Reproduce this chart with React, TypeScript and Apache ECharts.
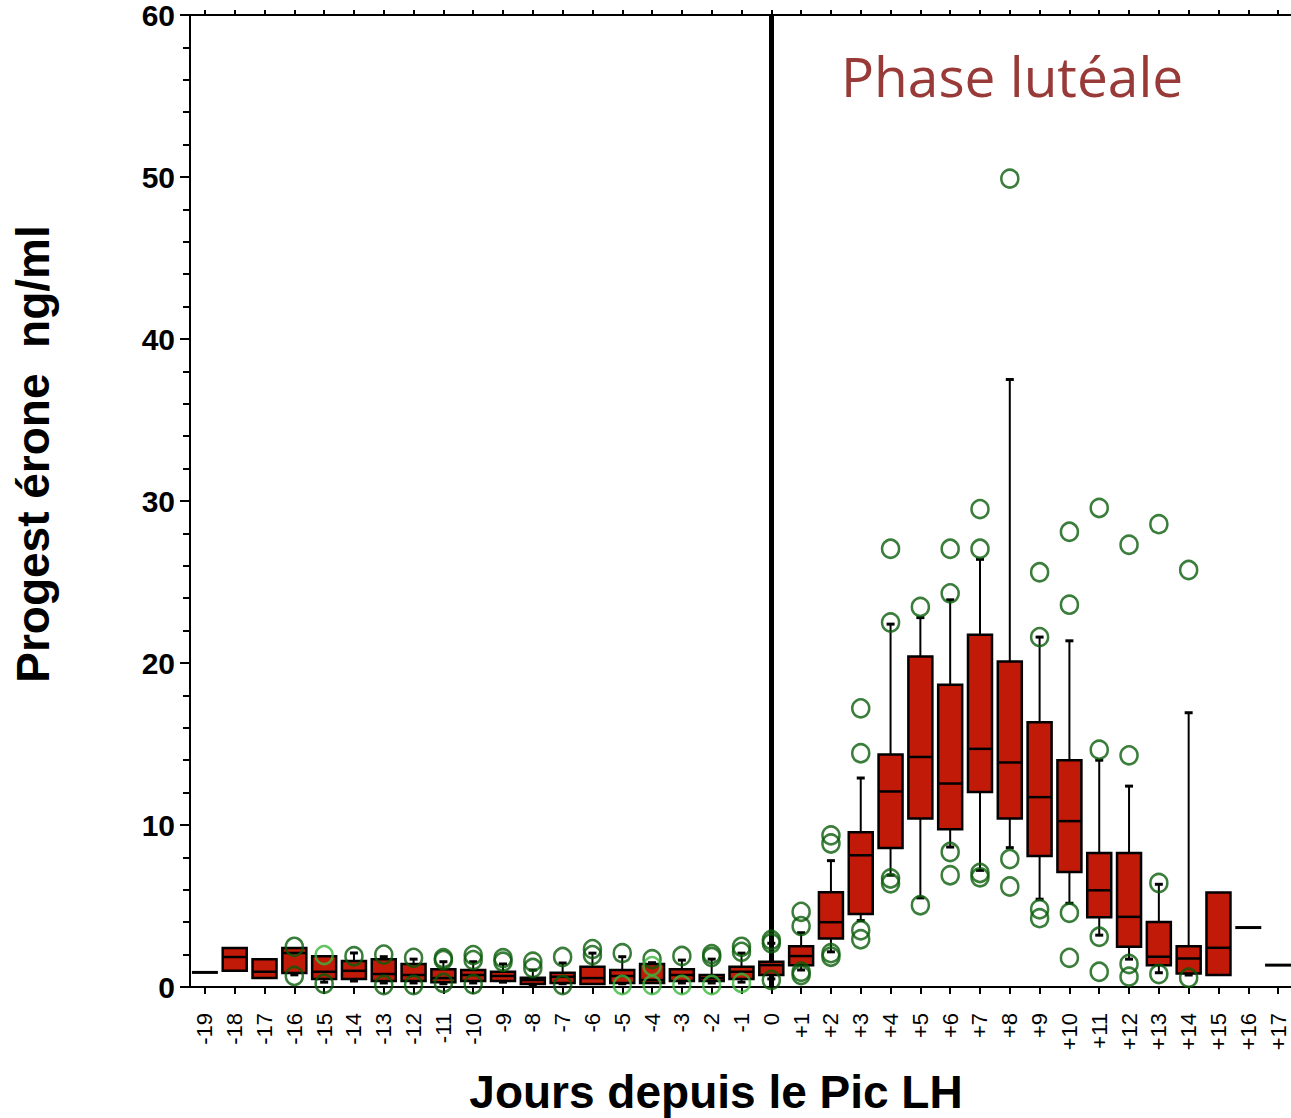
import React, { useEffect, useRef } from 'react';
import * as echarts from 'echarts';

// Category labels (days relative to LH peak)
const days = [
  '-19', '-18', '-17', '-16', '-15', '-14', '-13', '-12', '-11', '-10',
  '-9', '-8', '-7', '-6', '-5', '-4', '-3', '-2', '-1', '0',
  '+1', '+2', '+3', '+4', '+5', '+6', '+7', '+8', '+9', '+10',
  '+11', '+12', '+13', '+14', '+15', '+16', '+17',
];

// Box statistics, one value per day
const whiskerLow = [
  0.9, 1.0, 0.55, 0.75, 0.3, 0.37, 0.25, 0.25, 0.2, 0.25,
  0.3, 0.06, 0.2, 0.18, 0.2, 0.25, 0.25, 0.25, 0.3, 0.5,
  1.05, 2.17, 4.1, 6.9, 5.5, 8.64, 7.2, 8.6, 5.42, 5.17,
  3.2, 1.72, 0.88, 0.74, 0.74, 3.67, 1.35,
];
const q1 = [
  0.9, 1.0, 0.55, 0.86, 0.5, 0.5, 0.37, 0.37, 0.3, 0.37,
  0.37, 0.18, 0.25, 0.18, 0.25, 0.25, 0.37, 0.37, 0.49, 0.74,
  1.35, 3.0, 4.5, 8.58, 10.4, 9.73, 12.03, 10.4, 8.09, 7.1,
  4.3, 2.48, 1.35, 0.84, 0.74, 3.67, 1.35,
];
const median = [
  0.9, 1.85, 0.94, 2.1, 0.94, 1.0, 0.8, 0.74, 0.55, 0.74,
  0.68, 0.43, 0.63, 0.55, 0.68, 0.43, 0.74, 0.55, 0.94, 1.35,
  1.91, 4.0, 8.13, 12.07, 14.2, 12.56, 14.7, 13.86, 11.72, 10.24,
  5.97, 4.33, 1.87, 1.76, 2.42, 3.67, 1.35,
];
const q3 = [
  0.9, 2.4, 1.72, 2.4, 1.9, 1.6, 1.72, 1.42, 1.1, 1.05,
  0.94, 0.57, 0.88, 1.25, 1.05, 1.42, 1.1, 0.74, 1.25, 1.56,
  2.52, 5.85, 9.56, 14.35, 20.4, 18.66, 21.74, 20.1, 16.34, 14.0,
  8.27, 8.27, 4.02, 2.52, 5.83, 3.67, 1.35,
];
const whiskerHigh = [
  0.9, 2.4, 1.72, 2.4, 1.9, 2.1, 1.87, 1.72, 1.56, 1.56,
  1.42, 1.05, 1.48, 2.09, 1.87, 1.5, 1.66, 1.72, 2.09, 2.7,
  3.35, 7.8, 12.9, 22.4, 22.8, 23.9, 26.4, 37.5, 21.6, 21.37,
  14.0, 12.4, 6.34, 16.93, 5.83, 3.67, 1.35,
];

// Outliers [day, value]
const outliers: [string, number][] = [
  ['-16', 2.48], ['-16', 0.68], ['-15', 0.2], ['-14', 1.9],
  ['-13', 2.0], ['-13', 0.12], ['-12', 1.8], ['-12', 0.12],
  ['-11', 1.78], ['-11', 1.66], ['-11', 0.25],
  ['-10', 1.97], ['-10', 1.66], ['-10', 0.17],
  ['-9', 1.78], ['-9', 1.56], ['-8', 1.56], ['-8', 1.17],
  ['-7', 1.85], ['-7', 0.12], ['-6', 2.34], ['-6', 1.97],
  ['-5', 2.09], ['-4', 1.72], ['-3', 1.91], ['-2', 2.03], ['-2', 1.85],
  ['-1', 2.48], ['-1', 2.17],
  ['0', 2.9], ['0', 2.7], ['0', 0.43],
  ['+1', 4.64], ['+1', 3.76], ['+1', 0.94], ['+1', 0.74],
  ['+2', 9.36], ['+2', 8.86], ['+2', 2.09], ['+2', 1.87],
  ['+3', 17.2], ['+3', 14.43], ['+3', 3.5], ['+3', 2.95],
  ['+4', 27.05], ['+4', 22.5], ['+4', 6.7], ['+4', 6.4],
  ['+5', 23.46], ['+5', 5.05],
  ['+6', 27.05], ['+6', 24.3], ['+6', 8.33], ['+6', 6.9],
  ['+7', 29.5], ['+7', 27.05], ['+7', 7.04], ['+7', 6.77],
  ['+8', 49.9], ['+8', 7.9], ['+8', 6.2],
  ['+9', 25.6], ['+9', 21.6], ['+9', 4.8], ['+9', 4.25],
  ['+10', 28.1], ['+10', 23.6], ['+10', 4.58], ['+10', 1.8],
  ['+11', 29.57], ['+11', 14.65], ['+11', 3.1], ['+11', 0.94],
  ['+12', 27.3], ['+12', 14.3], ['+12', 1.42], ['+12', 0.64],
  ['+13', 28.57], ['+13', 6.42], ['+13', 0.8],
  ['+14', 25.74], ['+14', 0.57],
];
const lightOutliers: [string, number][] = [
  ['-15', 1.97], ['-5', 0.12], ['-4', 1.29], ['-4', 0.12],
  ['-3', 0.12], ['-2', 0.12], ['-1', 0.25],
];

const yTicks = [0, 10, 20, 30, 40, 50, 60];

const FONT = '"Liberation Sans", Arial, sans-serif';
const BOX_RED = '#c21a09';
const DARK_GREEN = '#0a5c0a';
const LIGHT_GREEN = '#3bb53b';

export default function App() {
  const ref = useRef<HTMLDivElement>(null);

  useEffect(() => {
    if (!ref.current) return;
    const chart = echarts.init(ref.current, undefined, { renderer: 'svg' });

    const boxData = days.map((_, i) => [i, whiskerLow[i], q1[i], median[i], q3[i], whiskerHigh[i]]);

    const renderItem = (_params: any, api: any) => {
      const x = api.value(0);
      const lo = api.coord([x, api.value(1)]);
      const p1 = api.coord([x, api.value(2)]);
      const pm = api.coord([x, api.value(3)]);
      const p3 = api.coord([x, api.value(4)]);
      const hi = api.coord([x, api.value(5)]);
      const cx = lo[0];
      const half = 12;
      const cap = 4;
      const children: any[] = [];
      const black = '#000';
      if (p3[1] - hi[1] > 0.5) {
        children.push({ type: 'line', shape: { x1: cx, y1: p3[1], x2: cx, y2: hi[1] }, style: { stroke: black, lineWidth: 2 } });
        children.push({ type: 'line', shape: { x1: cx - cap, y1: hi[1], x2: cx + cap, y2: hi[1] }, style: { stroke: black, lineWidth: 3 } });
      }
      if (lo[1] - p1[1] > 0.5) {
        children.push({ type: 'line', shape: { x1: cx, y1: p1[1], x2: cx, y2: lo[1] }, style: { stroke: black, lineWidth: 2 } });
        children.push({ type: 'line', shape: { x1: cx - cap, y1: lo[1], x2: cx + cap, y2: lo[1] }, style: { stroke: black, lineWidth: 3 } });
      }
      if (p1[1] - p3[1] < 1) {
        children.push({ type: 'line', shape: { x1: cx - half - 1, y1: pm[1], x2: cx + half + 1, y2: pm[1] }, style: { stroke: black, lineWidth: 3 } });
      } else {
        children.push({
          type: 'rect',
          shape: { x: cx - half, y: p3[1], width: half * 2, height: p1[1] - p3[1] },
          style: { fill: BOX_RED, stroke: black, lineWidth: 2.5 },
        });
        children.push({ type: 'line', shape: { x1: cx - half, y1: pm[1], x2: cx + half, y2: pm[1] }, style: { stroke: black, lineWidth: 2.5 } });
      }
      return { type: 'group', children };
    };

    chart.setOption({
      animation: false,
      backgroundColor: '#ffffff',
      grid: { left: 190, right: 0, top: 13, bottom: 131, containLabel: false },
      xAxis: [
        {
          type: 'category',
          data: days,
          position: 'bottom',
          boundaryGap: true,
          axisLine: { show: true, lineStyle: { color: '#000', width: 2 } },
          axisTick: { show: true, alignWithLabel: true, length: 7, lineStyle: { color: '#000', width: 2 } },
          axisLabel: {
            show: true, rotate: 90, interval: 0, margin: 26, fontSize: 22, lineHeight: 18,
            color: '#000', fontFamily: FONT,
          },
          splitLine: { show: false },
        },
        {
          type: 'category',
          data: days,
          position: 'top',
          boundaryGap: true,
          axisLine: { show: true, lineStyle: { color: '#000', width: 2 } },
          axisTick: { show: true, alignWithLabel: true, interval: 0, length: 5, lineStyle: { color: '#000', width: 2 } },
          axisLabel: { show: false },
          splitLine: { show: false },
        },
      ],
      yAxis: {
        type: 'value',
        min: yTicks[0],
        max: yTicks[yTicks.length - 1],
        interval: 10,
        axisLine: { show: true, lineStyle: { color: '#000', width: 2 } },
        axisTick: { show: true, length: 10, lineStyle: { color: '#000', width: 2 } },
        minorTick: { show: true, splitNumber: 5, length: 7, lineStyle: { color: '#000', width: 2 } },
        axisLabel: { margin: 15, fontSize: 30, fontWeight: 'bold', color: '#000', fontFamily: FONT },
        splitLine: { show: false },
      },
      series: [
        {
          type: 'custom',
          name: 'Progestérone',
          xAxisIndex: 0,
          renderItem,
          encode: { x: 0, y: [1, 2, 3, 4, 5] },
          data: boxData,
          z: 2,
        },
        {
          type: 'scatter',
          name: 'Valeurs extrêmes',
          xAxisIndex: 0,
          data: outliers,
          symbol: 'circle',
          symbolSize: [17, 18],
          itemStyle: { color: 'rgba(0,0,0,0)', borderColor: DARK_GREEN, borderWidth: 2.6 },
          z: 3,
          markLine: {
            silent: true,
            symbol: ['none', 'none'],
            label: { show: false },
            lineStyle: { color: '#000', width: 5, type: 'solid' },
            data: [{ xAxis: '0' }],
            z: 1,
          },
        },
        {
          type: 'scatter',
          name: 'Valeurs extrêmes (claires)',
          xAxisIndex: 0,
          data: lightOutliers,
          symbol: 'circle',
          symbolSize: [17, 18],
          itemStyle: { color: 'rgba(0,0,0,0)', borderColor: LIGHT_GREEN, borderWidth: 2.6 },
          z: 3,
        },
      ],
      graphic: [
        {
          type: 'text',
          left: 841,
          top: 48,
          style: { text: 'Phase lutéale', fill: '#983a37', font: '55px "Open Sans", sans-serif' },
        },
        {
          type: 'text',
          x: 716,
          y: 1092,
          style: {
            text: 'Jours depuis le Pic LH',
            fill: '#000',
            font: 'bold 46px "Liberation Sans", Arial, sans-serif',
            align: 'center',
            verticalAlign: 'middle',
          },
        },
        {
          type: 'text',
          x: 33,
          y: 454,
          rotation: Math.PI / 2,
          style: {
            text: 'Progest érone  ng/ml',
            fill: '#000',
            font: 'bold 46px "Liberation Sans", Arial, sans-serif',
            align: 'center',
            verticalAlign: 'middle',
          },
        },
      ],
    });

    return () => chart.dispose();
  }, []);

  return (
    <div
      style={{ position: 'absolute', left: 0, top: 0, width: 1291, height: 1118, overflow: 'hidden', background: '#fff' }}
    >
      <div ref={ref} style={{ width: 1293, height: 1118 }} />
    </div>
  );
}
